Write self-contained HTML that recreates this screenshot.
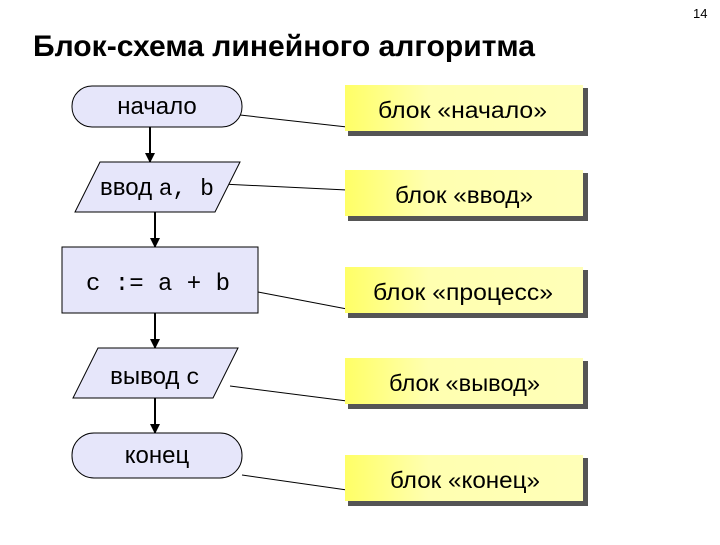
<!DOCTYPE html>
<html><head><meta charset="utf-8"><style>
body{margin:0;background:#fff;}
</style></head><body>
<svg width="720" height="540" xmlns="http://www.w3.org/2000/svg" font-family="Liberation Sans, sans-serif">
<defs>
<linearGradient id="y" x1="0" y1="0" x2="1" y2="0">
<stop offset="0" stop-color="#ffff66"/><stop offset="0.35" stop-color="#ffffb0"/><stop offset="1" stop-color="#ffffb8"/>
</linearGradient>
<marker id="a" markerWidth="10" markerHeight="10" refX="9" refY="5" orient="auto" markerUnits="userSpaceOnUse">
<path d="M0,0 L10,5 L0,10 z" fill="#000"/></marker>
</defs>
<text x="693" y="18" font-size="13">14</text>
<text x="33" y="56" font-size="30" font-weight="bold" textLength="502" lengthAdjust="spacingAndGlyphs">Блок-схема линейного алгоритма</text>
<g stroke="#000" stroke-width="2" fill="none">
<line x1="150" y1="127" x2="150" y2="162" marker-end="url(#a)"/>
<line x1="155" y1="212" x2="155" y2="247" marker-end="url(#a)"/>
<line x1="155" y1="313" x2="155" y2="348" marker-end="url(#a)"/>
<line x1="155" y1="398" x2="155" y2="433" marker-end="url(#a)"/>
</g>
<g stroke="#000" stroke-width="1">
<line x1="240" y1="115" x2="347" y2="127"/>
<line x1="222" y1="184" x2="347" y2="190"/>
<line x1="258" y1="292" x2="347" y2="309"/>
<line x1="230" y1="386" x2="347" y2="401"/>
<line x1="242" y1="475" x2="347" y2="490"/>
</g>
<g fill="#e6e6fa" stroke="#000" stroke-width="1">
<rect x="72" y="86" width="170" height="41" rx="20"/>
<polygon points="100,162 240,162 215,212 75,212"/>
<rect x="62" y="247" width="196" height="66"/>
<polygon points="98,348 238,348 213,398 73,398"/>
<rect x="72" y="433" width="170" height="45" rx="22"/>
</g>
<g font-size="24" fill="#000" text-anchor="middle">
<text x="157" y="114">начало</text>
<text x="157" y="195">ввод <tspan font-family="Liberation Mono, monospace" font-size="23">a, b</tspan></text>
<text x="158" y="290" font-family="Liberation Mono, monospace" font-size="24">c := a + b</text>
<text x="155" y="384">вывод <tspan font-family="Liberation Mono, monospace" font-size="23">c</tspan></text>
<text x="157" y="463">конец</text>
</g>
<g>
<g transform="translate(345,85)"><rect x="3" y="3" width="240" height="48" fill="#555"/><rect width="238" height="46" fill="url(#y)"/></g>
<g transform="translate(345,170)"><rect x="3" y="3" width="240" height="48" fill="#555"/><rect width="238" height="46" fill="url(#y)"/></g>
<g transform="translate(345,267)"><rect x="3" y="3" width="240" height="48" fill="#555"/><rect width="238" height="46" fill="url(#y)"/></g>
<g transform="translate(345,358)"><rect x="3" y="3" width="240" height="48" fill="#555"/><rect width="238" height="46" fill="url(#y)"/></g>
<g transform="translate(345,455)"><rect x="3" y="3" width="240" height="48" fill="#555"/><rect width="238" height="46" fill="url(#y)"/></g>
</g>
<g font-size="23" fill="#000">
<text x="378" y="118" textLength="169" lengthAdjust="spacingAndGlyphs">блок «начало»</text>
<text x="395" y="203" textLength="138" lengthAdjust="spacingAndGlyphs">блок «ввод»</text>
<text x="373" y="300" textLength="180" lengthAdjust="spacingAndGlyphs">блок «процесс»</text>
<text x="389" y="391" textLength="151" lengthAdjust="spacingAndGlyphs">блок «вывод»</text>
<text x="390" y="488" textLength="150" lengthAdjust="spacingAndGlyphs">блок «конец»</text>
</g>
</svg>
</body></html>
